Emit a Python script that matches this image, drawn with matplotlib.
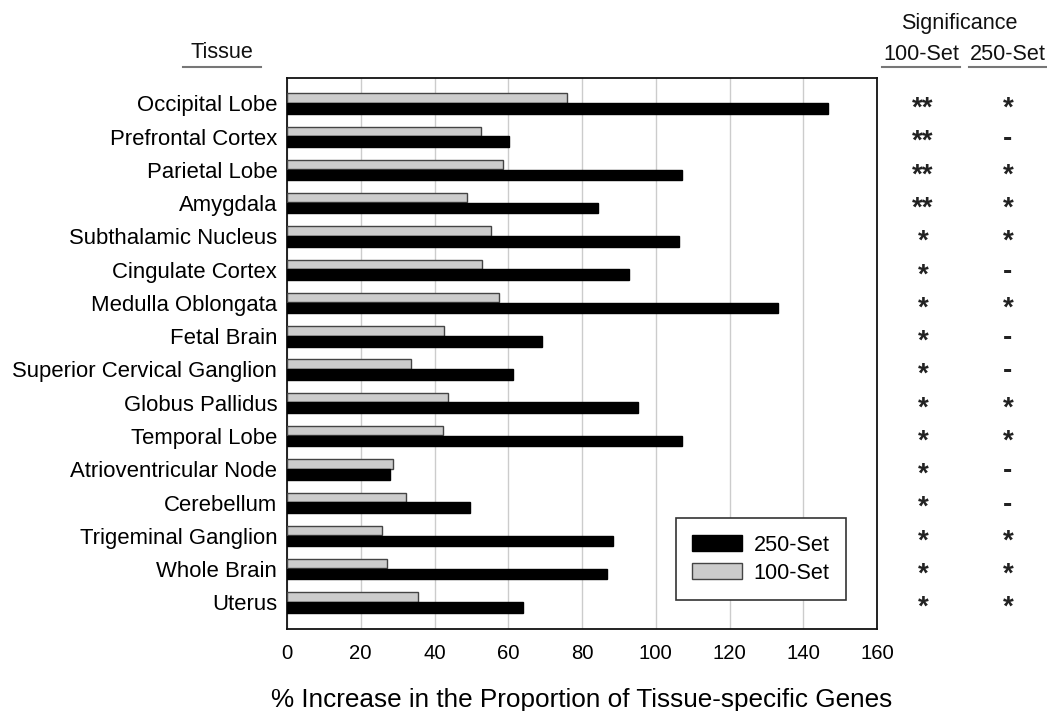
import numpy as np
import matplotlib.pyplot as plt
from matplotlib.lines import Line2D
from matplotlib.transforms import blended_transform_factory, ScaledTranslation

plt.rcParams['font.family'] = ['Liberation Sans', 'DejaVu Sans']

tissues = ['Occipital Lobe', 'Prefrontal Cortex', 'Parietal Lobe', 'Amygdala',
           'Subthalamic Nucleus', 'Cingulate Cortex', 'Medulla Oblongata',
           'Fetal Brain', 'Superior Cervical Ganglion', 'Globus Pallidus',
           'Temporal Lobe', 'Atrioventricular Node', 'Cerebellum',
           'Trigeminal Ganglion', 'Whole Brain', 'Uterus']
set100 = [75.8, 52.5, 58.7, 48.8, 55.2, 52.9, 57.6, 42.5, 33.7, 43.7,
          42.4, 28.8, 32.3, 25.7, 27.2, 35.6]
set250 = [146.7, 60.1, 107.1, 84.4, 106.2, 92.7, 133.2, 69.1, 61.4, 95.2,
          107.1, 28.0, 49.7, 88.4, 86.9, 64.1]
sig100 = ['**', '**', '**', '**', '*', '*', '*', '*', '*', '*', '*', '*', '*', '*', '*', '*']
sig250 = ['*', '-', '*', '*', '*', '-', '*', '-', '-', '*', '*', '-', '-', '*', '*', '*']

W, H = 1047, 711
fig = plt.figure(figsize=(W / 100, H / 100), dpi=100)
ax = fig.add_axes([287 / W, 1 - 629 / H, 590 / W, 551 / H])

y = np.arange(len(tissues))
ax.barh(y - 0.16, set100, height=0.28, color='#cccccc', edgecolor='#444444',
        linewidth=1, label='100-Set', zorder=3)
ax.barh(y + 0.15, set250, height=0.32, color='black', edgecolor='black',
        linewidth=1, label='250-Set', zorder=3)

ax.set_xlim(0, 160)
ax.set_ylim(15.8, -0.76)
ax.set_xticks(np.arange(0, 161, 20))
ax.set_yticks(y)
ax.set_yticklabels(tissues, fontsize=15.9)
ax.tick_params(axis='x', labelsize=14.6, length=0, pad=11)
ax.tick_params(axis='y', length=0, pad=7)
ax.xaxis.grid(True, color='#cccccc', linewidth=1, zorder=0)
for s in ax.spines.values():
    s.set_linewidth(1.3)
    s.set_color('#111111')

handles, labels = ax.get_legend_handles_labels()
leg = ax.legend(handles[::-1], labels[::-1], loc='lower right',
                bbox_to_anchor=(0.947, 0.053), fontsize=15.6, frameon=True,
                fancybox=False, edgecolor='#333333', framealpha=1,
                handlelength=2.3, handleheight=0.74, borderpad=0.75,
                labelspacing=0.32, handletextpad=0.55, borderaxespad=0)
leg.get_frame().set_linewidth(1.2)

ax.set_xlabel('% Increase in the Proportion of Tissue-specific Genes',
              fontsize=18.8, labelpad=18)

# significance marks, x in figure pixels, y on the category rows
trans = blended_transform_factory(fig.transFigure, ax.transData)
star_off = trans + ScaledTranslation(0, -0.125, fig.dpi_scale_trans)
dash_off = trans + ScaledTranslation(0, -0.09, fig.dpi_scale_trans)
for col_x, marks in [(923, sig100), (1008, sig250)]:
    for i, m in enumerate(marks):
        ax.text(col_x / W, i, m, transform=star_off if m != '-' else dash_off,
                fontsize=20, fontweight='bold', ha='center', va='baseline',
                color='#222222', clip_on=False)


def header(x, yp, txt, x0, x1):
    fig.text(x / W, 1 - yp / H, txt, fontsize=15.6, ha='center', va='center',
             color='#111111')
    fig.add_artist(Line2D([x0 / W, x1 / W], [1 - 67 / H] * 2,
                          color='#777777', linewidth=1.5))


fig.text(959 / W, 1 - 23 / H, 'Significance', fontsize=15.6, ha='center',
         va='center', color='#111111')
header(222, 52, 'Tissue', 183, 261)
header(921, 54, '100-Set', 882, 960)
header(1008, 54, '250-Set', 969, 1047)

fig.savefig('out.png', dpi=100)
